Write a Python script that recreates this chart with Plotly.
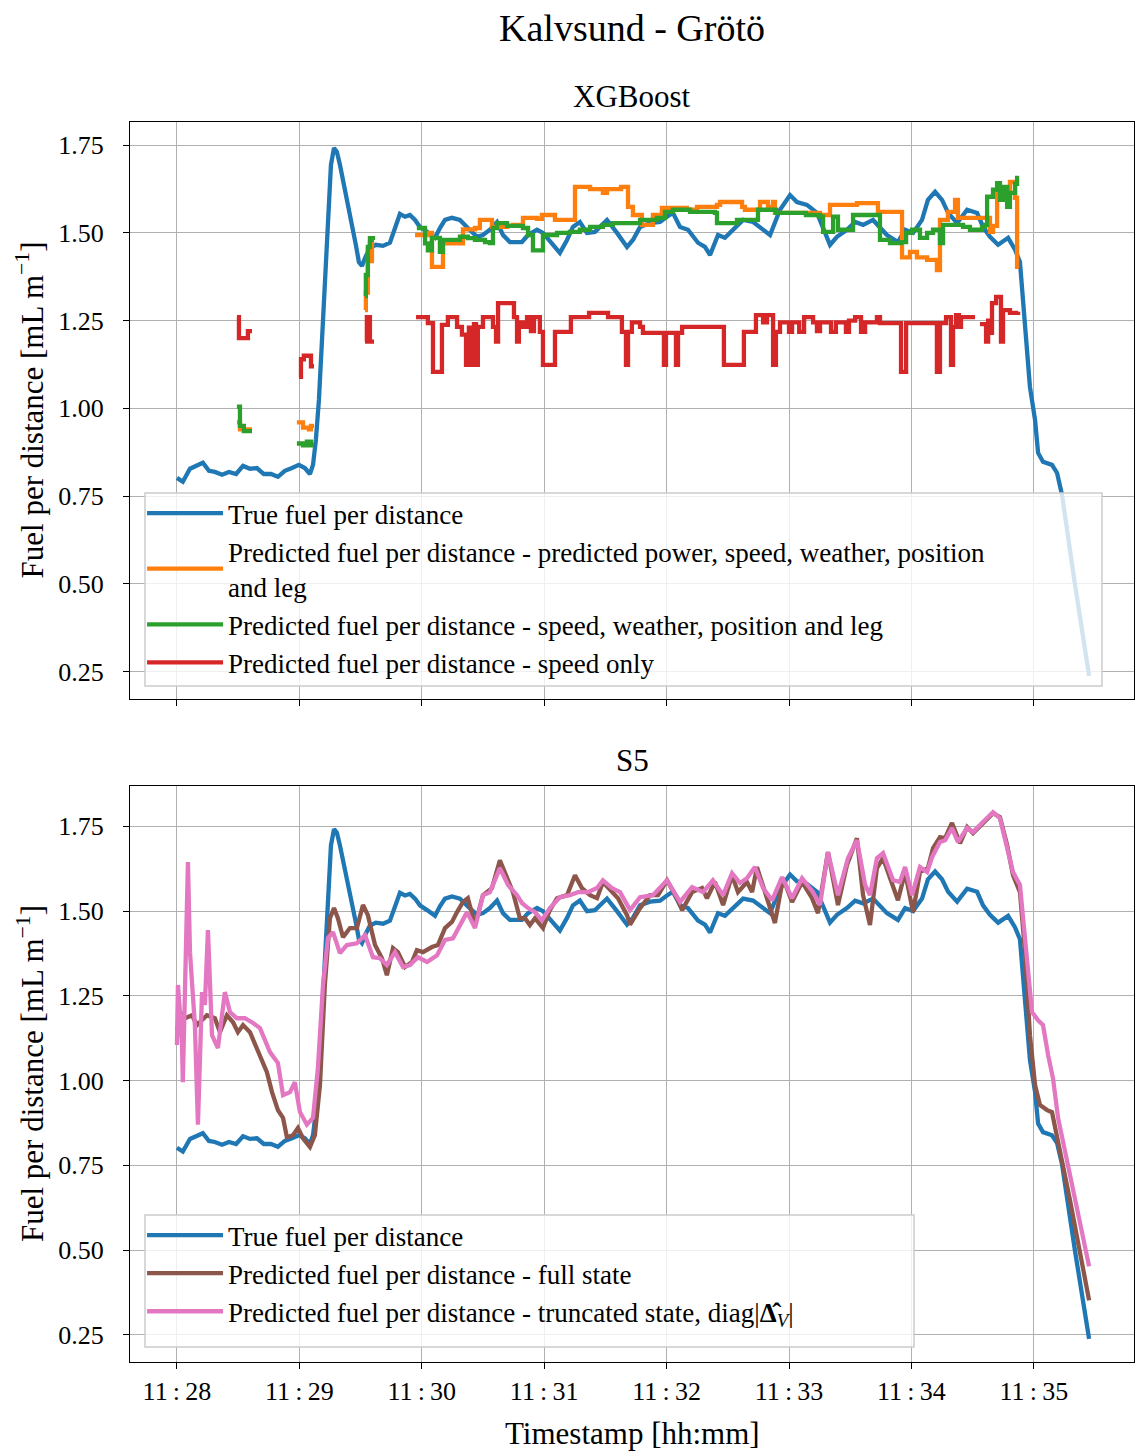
import pandas as pd
import plotly.graph_objects as go

T0 = pd.Timestamp("2023-05-10 11:28:00")

# ---------------- data (seconds after 11:28:00, fuel per distance) -------------
true_s = [0, 2.9, 6.4, 9.8, 12.7, 15.7, 18.6, 22.1, 25.5, 29.0, 32.4, 35.8, 39.2, 42.6, 46.1,
          49.5, 52.9, 56.4, 59.8, 62.7, 65.2, 66.7, 68.1, 69.6, 71.1, 72.5, 74.0, 75.5, 77.0,
          78.4, 79.9, 81.9, 83.8, 85.8, 87.7, 89.2, 90.7, 92.6, 94.6, 97.5, 101.0, 104.4,
          106.9, 109.3, 111.8, 114.2, 116.7, 119.1, 122.6, 126.5, 128.9, 131.4, 134.8, 138.7,
          142.6, 147.1, 150.0, 153.4, 156.9, 159.8, 163.2, 169.1, 172.1, 176.5, 179.4, 183.8,
          187.7, 191.2, 194.1, 197.5, 201.0, 204.9, 207.4, 210.8, 215.7, 220.6, 223.5, 227.0,
          231.9, 236.8, 240.2, 243.1, 246.6, 250.5, 255.4, 258.8, 261.3, 265.2, 268.6, 272.6,
          277.5, 282.4, 287.3, 290.7, 295.6, 300.5, 303.9, 308.8, 313.7, 316.7, 320.1, 323.5,
          328.4, 332.4, 336.3, 341.2, 344.6, 348.0, 353.4, 356.9, 360.8, 365.2, 368.1, 371.6,
          375.0, 378.0, 382.4, 387.3, 392.2, 395.1, 398.5, 402.5, 407.4, 410.8, 413.2, 415.7,
          418.1, 420.6, 422.1, 424.5, 428.9, 431.4, 433.8, 440.2, 447.1]
true_v = [0.802, 0.791, 0.828, 0.836, 0.845, 0.822, 0.819, 0.811, 0.819, 0.813, 0.836, 0.828,
          0.830, 0.813, 0.813, 0.805, 0.822, 0.830, 0.839, 0.830, 0.813, 0.839, 0.910, 1.024,
          1.195, 1.366, 1.551, 1.694, 1.742, 1.731, 1.694, 1.637, 1.585, 1.531, 1.466, 1.417,
          1.406, 1.434, 1.457, 1.466, 1.463, 1.472, 1.514, 1.554, 1.546, 1.551, 1.537, 1.517,
          1.503, 1.486, 1.514, 1.537, 1.543, 1.537, 1.514, 1.489, 1.494, 1.509, 1.531, 1.494,
          1.474, 1.474, 1.494, 1.509, 1.500, 1.472, 1.443, 1.480, 1.517, 1.531, 1.500, 1.503,
          1.517, 1.537, 1.500, 1.460, 1.480, 1.517, 1.528, 1.531, 1.546, 1.557, 1.517, 1.509,
          1.472, 1.460, 1.437, 1.494, 1.486, 1.509, 1.537, 1.531, 1.509, 1.494, 1.566, 1.608,
          1.588, 1.580, 1.557, 1.517, 1.466, 1.489, 1.509, 1.531, 1.523, 1.537, 1.517, 1.494,
          1.474, 1.509, 1.500, 1.537, 1.594, 1.617, 1.594, 1.557, 1.528, 1.566, 1.557, 1.517,
          1.489, 1.466, 1.486, 1.452, 1.417, 1.252, 1.061, 0.967, 0.873, 0.848, 0.839, 0.816,
          0.754, 0.497, 0.238]

# XGBoost predictions (step-wise, None = no prediction)
orange_s = [29.4, 30.9, 36.8, 36.9,
            58.8, 61.8, 64.7, 65.7, 67.2, 67.3,
            92.2, 92.6, 93.6, 94.6, 95.6, 96.6, 96.7,
            116.7, 123.0, 125.0, 130.4, 140.2, 146.1, 148.5, 154.4, 161.8, 164.7, 169.6, 176.5,
            178.9, 185.3, 195.1, 202.5, 208.8, 210.8, 217.7, 221.1, 223.5, 227.9, 233.3, 237.7,
            250.0, 254.9, 264.7, 266.2, 277.0, 278.4, 285.8, 289.7, 292.2, 293.1, 315.2, 320.1,
            333.3, 343.6, 355.4, 359.3, 362.7, 367.7, 372.5, 374.0, 377.9, 381.4, 382.8, 398.5,
            400.0, 402.0, 405.9, 408.3, 410.8, 411.8, 412.8]
orange_v = [0.96, 0.94, 0.94, None,
            0.96, 0.945, 0.94, 0.95, 0.95, None,
            1.28, 1.33, 1.45, 1.47, 1.42, 1.42, None,
            1.494, 1.50, 1.403, 1.47, 1.51, 1.514, 1.537, 1.517, 1.52, 1.523, 1.543, 1.54,
            1.551, 1.537, 1.631, 1.625, 1.614, 1.625, 1.631, 1.574, 1.551, 1.523, 1.551, 1.571,
            1.566, 1.574, 1.58, 1.588, 1.574, 1.566, 1.588, 1.574, 1.588, 1.557, 1.551, 1.58,
            1.585, 1.56, 1.43, 1.446, 1.43, 1.423, 1.394, 1.537, 1.56, 1.594, 1.543, 1.503,
            1.52, 1.617, 1.60, 1.645, 1.60, 1.403, 1.403]

green_s = [29.4, 30.9, 32.8, 36.8, 36.9,
           58.8, 61.8, 63.7, 65.7, 67.2, 67.3,
           92.2, 92.6, 93.6, 94.6, 96.1, 96.6, 96.7,
           117.6, 121.6, 123.0, 125.0, 128.9, 130.4, 138.7, 142.6, 146.1, 151.0, 153.4, 154.9,
           156.9, 161.8, 169.6, 172.1, 174.5, 179.4, 186.3, 192.6, 197.5, 202.5, 208.8, 213.7,
           227.0, 235.3, 239.2, 243.1, 251.5, 263.7, 264.7, 274.5, 284.8, 293.6, 308.3, 315.2,
           316.7, 321.6, 324.0, 329.9, 331.4, 343.1, 344.6, 349.5, 354.9, 357.4, 360.3, 364.2,
           367.7, 370.6, 374.0, 375.5, 385.3, 388.7, 394.6, 396.1, 397.1, 400.0, 402.0, 403.4,
           404.9, 406.9, 408.3, 410.8, 411.8, 412.8]
green_v = [1.005, 0.95, 0.935, 0.935, None,
           0.90, 0.895, 0.905, 0.895, 0.895, None,
           1.32, 1.38, 1.46, 1.485, 1.48, 1.48, None,
           1.514, 1.47, 1.45, 1.486, 1.446, 1.48, 1.489, 1.485, 1.48, 1.474, 1.471, 1.514,
           1.528, 1.52, 1.514, 1.494, 1.45, 1.494, 1.50, 1.503, 1.509, 1.517, 1.523, 1.528,
           1.537, 1.543, 1.56, 1.566, 1.56, 1.557, 1.528, 1.537, 1.566, 1.557, 1.551, 1.546,
           1.503, 1.546, 1.509, 1.509, 1.551, 1.551, 1.48, 1.471, 1.474, 1.50, 1.509, 1.486,
           1.50, 1.509, 1.471, 1.523, 1.517, 1.509, 1.517, 1.523, 1.603, 1.623, 1.642, 1.594,
           1.631, 1.574, 1.614, 1.64, 1.657, 1.657]

red_s = [29.4, 30.4, 34.8, 36.8, 36.9,
         59.8, 60.8, 62.2, 65.7, 67.2, 67.3,
         92.2, 93.1, 94.6, 96.6, 96.7,
         117.2, 123.0, 125.5, 129.9, 132.8, 137.3, 139.7, 141.7, 143.1, 144.1, 145.6, 146.6,
         147.5, 150.0, 154.9, 156.4, 157.4, 165.2, 166.7, 167.6, 169.6, 171.6, 173.5, 175.0,
         177.9, 179.4, 185.3, 193.1, 202.0, 211.3, 218.1, 220.1, 221.1, 223.0, 227.0, 228.4,
         238.7, 239.7, 244.6, 245.6, 247.6, 268.1, 277.9, 283.8, 287.3, 289.2, 292.2, 293.6,
         295.6, 300.0, 301.5, 305.0, 307.4, 311.8, 313.7, 315.2, 320.6, 323.0, 327.9, 329.4,
         332.4, 335.3, 337.3, 343.1, 344.6, 354.9, 357.4, 372.5, 374.0, 377.0, 379.4, 380.4,
         381.9, 383.3, 384.3, 391.2, 391.3,
         393.6, 396.6, 397.6, 398.5, 399.5, 401.5, 403.9, 404.9, 408.3, 412.3]
red_v = [1.26, 1.20, 1.22, 1.22, None,
         1.09, 1.14, 1.15, 1.12, 1.12, None,
         1.19, 1.26, 1.19, 1.19, None,
         1.26, 1.243, 1.104, 1.238, 1.26, 1.232, 1.21, 1.124, 1.23, 1.124, 1.24, 1.124,
         1.232, 1.26, 1.232, 1.19, 1.30, 1.26, 1.19, 1.245, 1.232, 1.26, 1.22, 1.26,
         1.218, 1.124, 1.218, 1.26, 1.272, 1.26, 1.218, 1.124, 1.218, 1.245, 1.232, 1.215,
         1.124, 1.215, 1.124, 1.215, 1.232, 1.124, 1.218, 1.266, 1.245, 1.266, 1.124, 1.218,
         1.245, 1.218, 1.245, 1.218, 1.26, 1.245, 1.22, 1.245, 1.218, 1.245, 1.218, 1.25,
         1.26, 1.218, 1.245, 1.26, 1.243, 1.104, 1.243, 1.104, 1.243, 1.26, 1.124, 1.232,
         1.266, 1.232, 1.26, 1.26, None,
         1.24, 1.19, 1.25, 1.215, 1.30, 1.318, 1.19, 1.28, 1.272, 1.275]

# S5 predictions
full_s = [0, 2.0, 3.9, 7.4, 9.8, 14.7, 18.6, 21.1, 24.5, 27.5, 29.9, 32.4, 35.8, 39.7, 44.1,
          46.6, 49.5, 52.0, 53.9, 56.9, 59.3, 61.8, 65.2, 67.6, 70.1, 72.5, 75.0, 77.0, 78.9,
          81.4, 84.8, 88.2, 91.2, 93.6, 97.1, 100.5, 102.9, 105.9, 108.3, 111.8, 115.2, 117.6,
          120.6, 125.0, 127.9, 131.4, 134.8, 137.3, 140.2, 142.6, 146.1, 150.0, 154.4, 158.3,
          161.8, 164.7, 168.1, 170.6, 173.0, 175.5, 179.4, 182.8, 186.3, 191.2, 195.1, 198.5,
          202.5, 205.9, 208.8, 213.2, 216.2, 220.6, 222.1, 227.0, 231.9, 235.8, 240.2, 245.1,
          247.6, 252.5, 257.4, 259.8, 263.7, 267.7, 272.1, 275.0, 279.4, 281.9, 284.3, 289.2,
          293.1, 297.1, 301.5, 306.4, 311.3, 314.2, 319.1, 324.0, 328.4, 333.3, 336.3, 339.7,
          343.1, 346.1, 351.0, 353.4, 356.9, 360.8, 364.2, 368.1, 370.6, 374.0, 376.5, 379.9,
          383.8, 387.3, 390.2, 395.1, 400.0, 403.4, 406.9, 409.8, 413.2, 415.7, 418.1, 420.6,
          423.0, 426.5, 428.9, 437.7, 447.1]
full_v = [1.15, 1.20, 1.184, 1.193, 1.164, 1.193, 1.184, 1.143, 1.193, 1.172, 1.143, 1.164,
          1.143, 1.084, 1.025, 0.966, 0.913, 0.89, 0.833, 0.839, 0.86, 0.83, 0.804, 0.839,
          0.987, 1.282, 1.479, 1.509, 1.479, 1.423, 1.45, 1.45, 1.518, 1.488, 1.40, 1.361,
          1.311, 1.391, 1.379, 1.335, 1.35, 1.385, 1.379, 1.394, 1.40, 1.45, 1.468, 1.497,
          1.527, 1.538, 1.459, 1.547, 1.568, 1.65, 1.597, 1.556, 1.479, 1.479, 1.459, 1.479,
          1.45, 1.503, 1.538, 1.547, 1.606, 1.568, 1.547, 1.538, 1.586, 1.556, 1.538, 1.488,
          1.46, 1.509, 1.547, 1.547, 1.591, 1.538, 1.503, 1.556, 1.568, 1.538, 1.586, 1.518,
          1.606, 1.556, 1.586, 1.556, 1.63, 1.538, 1.465, 1.597, 1.527, 1.586, 1.538, 1.494,
          1.674, 1.518, 1.636, 1.715, 1.547, 1.459, 1.627, 1.656, 1.577, 1.532, 1.615, 1.497,
          1.615, 1.627, 1.686, 1.718, 1.715, 1.76, 1.70, 1.748, 1.73, 1.76, 1.789, 1.777,
          1.695, 1.606, 1.556, 1.379, 1.134, 0.987, 0.928, 0.913, 0.907, 0.648, 0.352]

trunc_s = [0, 0.5, 1.5, 2.5, 2.9, 3.9, 5.4, 6.4, 7.8, 8.8, 10.3, 12.3, 13.7, 15.2, 17.2, 20.1,
           23.5, 26.0, 29.4, 33.3, 37.3, 40.7, 45.6, 49.5, 52.0, 55.4, 57.8, 60.3, 63.7, 66.7,
           69.1, 71.6, 74.0, 76.5, 79.9, 83.3, 88.2, 92.2, 96.1, 99.5, 102.9, 106.9, 110.8,
           114.2, 118.1, 122.6, 127.5, 131.4, 135.3, 138.7, 142.2, 146.1, 150.0, 153.4, 158.3,
           162.3, 166.7, 169.1, 172.1, 175.5, 178.9, 182.8, 187.7, 192.6, 196.6, 201.5, 205.9,
           208.8, 213.2, 217.2, 222.1, 227.0, 233.3, 240.2, 246.6, 252.5, 257.9, 262.7, 267.7,
           272.1, 276.0, 279.4, 283.3, 287.3, 291.7, 296.6, 301.5, 306.4, 311.8, 315.2, 319.1,
           324.0, 328.9, 333.3, 337.3, 339.7, 343.1, 346.1, 351.0, 354.4, 356.9, 360.3, 364.2,
           367.7, 370.1, 374.0, 376.5, 379.9, 382.8, 387.3, 390.2, 395.1, 400.0, 403.4, 406.9,
           409.8, 413.2, 415.7, 419.1, 422.1, 424.5, 427.0, 429.4, 431.9, 447.1]
trunc_v = [1.105, 1.282, 1.20, 1.105, 0.995, 1.282, 1.645, 1.379, 1.223, 1.164, 0.87, 1.261,
           1.223, 1.444, 1.134, 1.096, 1.261, 1.202, 1.184, 1.184, 1.17, 1.155, 1.084, 1.052,
           0.957, 0.966, 0.995, 0.907, 0.87, 0.89, 1.037, 1.282, 1.42, 1.438, 1.376, 1.40,
           1.405, 1.429, 1.364, 1.361, 1.341, 1.379, 1.335, 1.341, 1.364, 1.35, 1.37, 1.415,
           1.42, 1.459, 1.497, 1.45, 1.547, 1.556, 1.627, 1.577, 1.547, 1.524, 1.509, 1.497,
           1.473, 1.509, 1.541, 1.547, 1.556, 1.556, 1.568, 1.591, 1.568, 1.556, 1.503, 1.541,
           1.547, 1.591, 1.527, 1.571, 1.556, 1.591, 1.547, 1.612, 1.583, 1.597, 1.63, 1.568,
           1.532, 1.60, 1.538, 1.597, 1.556, 1.518, 1.674, 1.547, 1.656, 1.709, 1.577, 1.547,
           1.656, 1.671, 1.591, 1.586, 1.63, 1.547, 1.63, 1.615, 1.659, 1.704, 1.709, 1.745,
           1.704, 1.745, 1.733, 1.763, 1.792, 1.774, 1.686, 1.615, 1.577, 1.429, 1.202, 1.178,
           1.164, 1.075, 1.007, 0.889, 0.452]

# ---------------- labels ------------------------------------------------------------
NAME_TRUE = "True fuel per distance"
NAME_PP = "Predicted fuel per distance - predicted power, speed, weather, position<br>and leg"
NAME_SW = "Predicted fuel per distance - speed, weather, position and leg"
NAME_SO = "Predicted fuel per distance - speed only"
NAME_FULL = "Predicted fuel per distance - full state"
NAME_TRUNC = ("Predicted fuel per distance - truncated state, diag|"
              "<b>\u0394\u0302</b><sub><i>V</i></sub>|")
y_ticks = [0.25, 0.50, 0.75, 1.00, 1.25, 1.50, 1.75]

COL = dict(blue="#1f77b4", orange="#ff7f0e", green="#2ca02c", red="#d62728",
           brown="#8c564b", pink="#e377c2")
FONT = "Liberation Serif"


def ts(sec):
    return [T0 + pd.Timedelta(seconds=s) for s in sec]


fig = go.Figure()
LW = 4.3

fig.add_trace(go.Scatter(x=ts(true_s), y=true_v, mode="lines", name=NAME_TRUE,
                         line=dict(color=COL["blue"], width=LW), xaxis="x", yaxis="y",
                         legend="legend"))
fig.add_trace(go.Scatter(x=ts(orange_s), y=orange_v, mode="lines", name=NAME_PP,
                         line=dict(color=COL["orange"], width=LW, shape="hv"),
                         xaxis="x", yaxis="y", legend="legend"))
fig.add_trace(go.Scatter(x=ts(green_s), y=green_v, mode="lines", name=NAME_SW,
                         line=dict(color=COL["green"], width=LW, shape="hv"),
                         xaxis="x", yaxis="y", legend="legend"))
fig.add_trace(go.Scatter(x=ts(red_s), y=red_v, mode="lines", name=NAME_SO,
                         line=dict(color=COL["red"], width=LW, shape="hv"),
                         xaxis="x", yaxis="y", legend="legend"))

fig.add_trace(go.Scatter(x=ts(true_s), y=true_v, mode="lines", name=NAME_TRUE,
                         line=dict(color=COL["blue"], width=LW), xaxis="x2", yaxis="y2",
                         legend="legend2"))
fig.add_trace(go.Scatter(x=ts(full_s), y=full_v, mode="lines", name=NAME_FULL,
                         line=dict(color=COL["brown"], width=LW), xaxis="x2", yaxis="y2",
                         legend="legend2"))
fig.add_trace(go.Scatter(x=ts(trunc_s), y=trunc_v, mode="lines", name=NAME_TRUNC,
                         line=dict(color=COL["pink"], width=LW), xaxis="x2", yaxis="y2",
                         legend="legend2"))

xr = [T0 + pd.Timedelta(seconds=-23.0), T0 + pd.Timedelta(seconds=469.1)]
axis_common = dict(showline=True, mirror=True, linecolor="black", linewidth=1.3,
                   ticks="outside", ticklen=6, tickwidth=1.3, tickcolor="black",
                   showgrid=True, gridcolor="#b0b0b0", gridwidth=1.3, zeroline=False,
                   tickfont=dict(family=FONT, size=26, color="black"))
xcommon = dict(axis_common, range=xr, type="date", tick0=T0, dtick=60000,
               tickformat="%H\u2009:\u2009%M")
ycommon = dict(axis_common, tickvals=y_ticks, ticktext=[f"{v:.2f}" for v in y_ticks],
               ticklabelstandoff=14)

TOP_D = [0.5347, 1.0]
BOT_D = [0.0, 0.4645]

legend_common = dict(xanchor="left", yanchor="top", bgcolor="rgba(0,0,0,0)",
                     borderwidth=0, itemwidth=76,
                     font=dict(family=FONT, size=27, color="black"), tracegroupgap=0)

# legend frames (semi-transparent, drawn above the data, below the legend text)
box_style = dict(type="rect", xref="paper", yref="paper", layer="above",
                 fillcolor="rgba(255,255,255,0.8)", line=dict(color="#cccccc", width=1.5))
shapes = [
    dict(box_style, x0=15 / 1004, x1=972 / 1004, y0=676 / 1240, y1=869 / 1240),
    dict(box_style, x0=15 / 1004, x1=784 / 1004, y0=15 / 1240, y1=147 / 1240),
]

fig.update_layout(
    width=1137, height=1452,
    margin=dict(l=130, r=3, t=122, b=90),
    paper_bgcolor="white", plot_bgcolor="white",
    font=dict(family=FONT, color="black"),
    title=dict(text="Kalvsund - Grötö", x=0.5, xanchor="center", xref="paper",
               y=1 - 28 / 1452, yanchor="middle", yref="container",
               font=dict(family=FONT, size=38, color="black")),
    xaxis=dict(xcommon, domain=[0, 1], anchor="y", showticklabels=False, matches="x2"),
    yaxis=dict(ycommon, domain=TOP_D, anchor="x", range=[0.172, 1.816]),
    xaxis2=dict(xcommon, domain=[0, 1], anchor="y2"),
    yaxis2=dict(ycommon, domain=BOT_D, anchor="x2", range=[0.170, 1.869]),
    legend=dict(legend_common, x=0.012, y=873 / 1240),
    legend2=dict(legend_common, x=0.012, y=151 / 1240),
    shapes=shapes,
    showlegend=True,
)

ann_font = dict(family=FONT, size=31, color="black")
ylabel = "Fuel per distance [mL m<sup>−1</sup>]"
fig.add_annotation(text="XGBoost", x=0.5, y=TOP_D[1], xref="paper", yref="paper",
                   xanchor="center", yanchor="bottom", yshift=6, showarrow=False, font=ann_font)
fig.add_annotation(text="S5", x=0.5, y=BOT_D[1], xref="paper", yref="paper",
                   xanchor="center", yanchor="bottom", yshift=6, showarrow=False, font=ann_font)
fig.add_annotation(text="Timestamp [hh:mm]", x=0.5, y=-71 / 1240, xref="paper", yref="paper",
                   xanchor="center", yanchor="middle", showarrow=False, font=ann_font)
fig.add_annotation(text=ylabel, x=-100 / 1004, y=(TOP_D[0] + TOP_D[1]) / 2, xref="paper",
                   yref="paper", xanchor="center", yanchor="middle", textangle=-90,
                   showarrow=False, font=ann_font)
fig.add_annotation(text=ylabel, x=-100 / 1004, y=(BOT_D[0] + BOT_D[1]) / 2, xref="paper",
                   yref="paper", xanchor="center", yanchor="middle", textangle=-90,
                   showarrow=False, font=ann_font)

fig.write_html("out.html")
